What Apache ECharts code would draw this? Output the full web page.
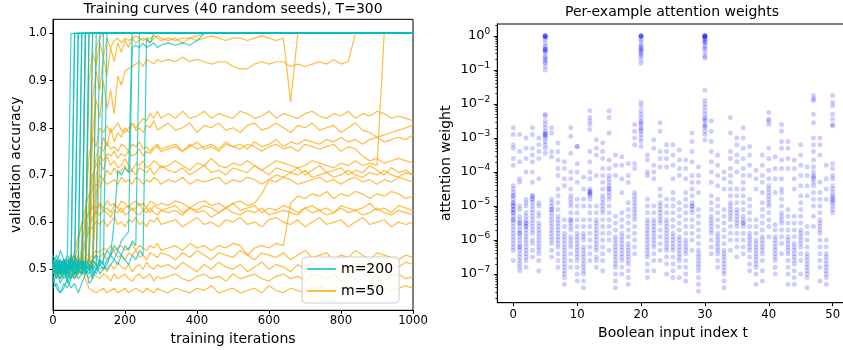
<!DOCTYPE html>
<html>
<head>
<meta charset="utf-8">
<script src="https://cdn.jsdelivr.net/npm/echarts@6/dist/echarts.min.js"></script>
<style>html,body{margin:0;padding:0;background:#fff}#chart{width:843px;height:350px}</style>
</head>
<body>
<div id="chart"></div>
<script>
// training iterations at which validation accuracy was logged
var iters = [0,10,20,30,40,50,60,70,80,90,100,110,120,130,140,150,160,170,180,190,200,
  210,220,230,240,250,260,270,280,290,300,
  320,340,360,380,400,420,440,460,480,500,520,540,560,580,600,620,640,660,680,700,
  720,740,760,780,800,820,840,860,880,900,920,940,960,980,1000];

// m=200 runs (a run that stops early stays at its last value)
var m200Runs = [
  [0.50,0.52,0.49,0.51,0.53,1.0],
  [0.49,0.51,0.50,0.52,0.48,0.50,1.0],
  [0.52,0.50,0.47,0.49,0.51,0.50,1.0],
  [0.48,0.46,0.45,0.47,0.46,0.48,0.50,1.0],
  [0.51,0.53,0.50,0.52,0.49,0.51,0.50,1.0],
  [0.50,0.49,0.52,0.50,0.53,0.51,0.49,0.50,1.0],
  [0.47,0.49,0.48,0.50,0.47,0.49,0.48,0.50,1.0],
  [0.53,0.51,0.54,0.52,0.50,0.52,0.53,0.51,0.50,1.0],
  [0.50,0.48,0.50,0.52,0.49,0.51,0.50,0.48,0.49,1.0],
  [0.46,0.47,0.45,0.46,0.48,0.46,0.47,0.45,0.47,0.49,1.0],
  [0.51,0.50,0.52,0.49,0.51,0.53,0.50,0.52,0.51,0.50,1.0],
  [0.49,0.52,0.50,0.51,0.48,0.50,0.52,0.49,0.51,0.50,0.52,1.0],
  [0.50,0.51,0.49,0.52,0.50,0.48,0.51,0.50,0.49,0.51,0.47,0.48,1.0],
  [0.52,0.50,0.51,0.49,0.50,0.52,0.51,0.50,0.52,0.49,0.51,0.50,0.51,1.0],
  [0.48,0.50,0.49,0.51,0.50,0.48,0.49,0.51,0.50,0.49,0.50,0.48,0.50,0.51,1.0],
  [0.51,0.49,0.50,0.52,0.51,0.50,0.49,0.51,0.52,0.50,0.51,0.49,0.50,0.52,0.51,1.0],
  [0.50,0.52,0.51,0.49,0.50,0.52,0.51,0.50,0.52,0.51,0.50,0.52,0.53,0.51,0.52,0.54,0.53,
   0.60,0.71,0.70,0.715,0.705,1.0],
  [0.50,0.49,0.51,0.50,0.52,0.50,0.49,0.51,0.50,0.52,0.51,0.50,0.49,0.51,0.50,
   0.52,0.53,0.55,0.54,0.56,0.57,0.58,0.97,0.975,0.97,0.98,0.97,0.975,0.98,0.97,0.975,
   0.98,0.975,0.98,0.975,0.985,1.0],
  [0.51,0.50,0.52,0.49,0.51,0.50,0.52,0.50,0.49,0.51,0.50,0.52,0.51,0.49,0.50,
   0.51,0.53,0.52,0.54,0.53,0.55,0.54,0.56,0.55,1.0],
  [0.49,0.51,0.50,0.48,0.50,0.51,0.49,0.50,0.52,0.50,0.49,0.51,0.50,0.52,0.51,
   0.50,0.51,0.52,0.51,0.53,0.52,0.51,0.53,0.52,0.54,0.53,0.99,0.98,1.0]
];

// m=50 runs
var m50Runs = [
  [0.50,0.52,0.49,0.51,0.50,0.53,0.50,0.49,0.51,1.0],
  [0.49,0.50,0.52,0.50,0.48,0.51,0.53,0.50,0.52,0.51,0.50,1.0],
  [0.51,0.50,0.49,0.52,0.50,0.51,0.48,0.50,0.52,0.51,0.53,0.50,0.97,0.99,1.0],
  [0.50,0.51,0.49,0.52,0.50,0.52,0.51,0.49,0.53,0.51,
   0.90,0.96,0.93,0.98,0.95,0.99,0.97,0.985,0.99,0.98,
   0.99,0.985,0.99,0.995,0.99,0.985,0.99,0.99,0.995,0.99,0.985,
   0.99,0.985,0.99,0.99,0.985,0.99,0.995,0.99,0.985,0.99,0.99,0.985,0.99,0.995,0.99,0.985,0.99,0.855,1.0],
  [0.49,0.50,0.52,0.51,0.49,0.50,0.52,0.50,0.51,0.53,
   0.53,0.86,0.92,0.88,0.95,0.91,0.97,0.94,0.98,0.96,
   0.985,0.97,0.99,0.98,0.985,0.99,0.985,0.98,0.99,0.995,0.99,
   0.985,0.99,0.98,0.99,0.995,1.0],
  [0.51,0.50,0.48,0.50,0.52,0.51,0.49,0.50,0.52,0.50,0.51,
   0.79,0.86,0.82,0.90,0.84,0.88,0.83,0.91,0.89,
   0.92,0.925,0.93,0.935,0.94,0.93,0.945,0.94,0.935,0.945,0.94,
   0.945,0.94,0.95,0.94,0.945,0.94,0.935,0.94,0.94,0.93,0.925,0.925,0.935,0.94,0.935,0.94,0.94,
   0.93,0.935,0.93,0.935,0.94,0.935,0.945,0.935,0.94,1.0],
  [0.50,0.52,0.50,0.51,0.49,0.52,0.50,0.51,0.53,0.50,0.52,0.51,
   0.70,0.73,0.71,0.74,0.72,0.73,0.715,0.72,0.735,0.72,0.71,0.725,0.72,0.73,0.715,0.72,0.73,0.725,0.715,
   0.72,0.73,0.72,0.71,0.725,0.72,0.735,0.72,0.715,0.725,0.72,0.73,0.72,0.71,0.72,
   0.73,0.725,0.72,0.715,0.72,0.73,0.725,0.72,0.715,0.725,0.72,0.73,0.72,0.725,0.72,1.0],
  [0.49,0.51,0.50,0.52,0.50,0.49,0.51,0.50,0.52,0.51,0.50,0.52,0.51,
   0.74,0.78,0.76,0.80,0.77,0.79,0.78,0.80,0.79,0.81,0.80,0.81,0.82,0.815,0.83,0.82,0.835,0.82,
   0.83,0.82,0.835,0.82,0.825,0.835,0.82,0.83,0.825,0.82,0.835,0.83,0.82,0.825,0.835,0.82,0.83,0.825,
   0.82,0.83,0.835,0.825,0.82,0.83,0.825,0.835,0.82,0.83,0.825,0.835,0.83,0.82,0.825,0.82,0.815],
  [0.50,0.49,0.51,0.52,0.50,0.51,0.49,0.52,0.50,
   0.62,0.74,0.78,0.76,0.80,0.79,0.805,0.79,0.80,0.81,0.795,0.79,0.80,0.81,0.795,0.80,0.79,0.805,0.80,0.815,0.795,0.80,
   0.81,0.795,0.80,0.81,0.79,0.805,0.80,0.81,0.795,0.80,0.79,0.805,0.81,0.795,0.80,0.81,0.80,0.79,
   0.805,0.80,0.81,0.795,0.80,0.805,0.79,0.80,0.81,0.795,0.79,0.78,0.785,0.79,0.795,0.80,0.805],
  [0.51,0.50,0.52,0.49,0.50,0.52,0.51,0.50,0.49,0.51,0.52,
   0.68,0.74,0.76,0.75,0.77,0.755,0.76,0.75,0.765,0.76,0.75,0.765,0.76,0.77,0.755,0.76,0.75,0.76,0.765,0.755,
   0.76,0.765,0.75,0.76,0.77,0.755,0.76,0.75,0.765,0.76,0.755,0.765,0.76,0.75,0.76,0.765,0.755,0.76,
   0.75,0.765,0.76,0.755,0.76,0.765,0.75,0.76,0.755,0.74,0.73,0.735,0.725,0.73,0.735,0.73,0.725],
  [0.50,0.52,0.49,0.51,0.50,0.53,0.50,0.52,0.51,0.50,
   0.65,0.70,0.72,0.74,0.73,0.745,0.74,0.75,0.735,0.745,0.74,0.75,0.74,0.745,0.755,0.74,0.75,0.745,0.755,0.76,0.75,
   0.755,0.76,0.75,0.765,0.755,0.76,0.765,0.755,0.77,0.76,0.765,0.755,0.77,0.76,0.765,0.775,0.76,0.77,
   0.765,0.775,0.77,0.765,0.775,0.77,0.78,0.77,0.775,0.765,0.775,0.78,0.77,0.775,0.78,0.775,0.785],
  [0.50,0.51,0.49,0.52,0.50,0.51,0.53,0.50,0.49,0.51,0.52,0.50,
   0.66,0.70,0.69,0.71,0.70,0.715,0.70,0.71,0.72,0.705,0.71,0.70,0.715,0.71,0.705,0.715,0.70,0.71,0.72,
   0.71,0.705,0.715,0.70,0.71,0.72,0.705,0.71,0.70,0.715,0.71,0.705,0.72,0.71,0.70,0.715,0.71,0.705,
   0.715,0.70,0.71,0.72,0.705,0.71,0.715,0.70,0.71,0.705,0.72,0.71,0.70,0.715,0.705,0.71,0.70],
  [0.50,0.49,0.52,0.50,0.51,0.53,0.51,
   0.56,0.60,0.63,0.66,0.67,0.68,0.675,0.69,0.68,0.685,0.69,0.68,0.695,0.685,0.69,0.68,0.695,0.69,0.68,0.69,0.685,0.695,0.69,0.68,
   0.69,0.685,0.695,0.68,0.69,0.685,0.69,0.695,0.68,0.69,0.685,0.695,0.69,0.68,0.69,0.685,0.695,0.69,
   0.68,0.685,0.69,0.695,0.685,0.69,0.68,0.69,0.695,0.685,0.69,0.68,0.69,0.685,0.695,0.69,0.685],
  [0.51,0.50,0.49,0.52,0.50,0.51,
   0.54,0.57,0.59,0.61,0.62,0.635,0.63,0.64,0.63,0.645,0.635,0.64,0.63,0.645,0.64,0.63,0.64,0.645,0.635,0.64,0.63,0.645,0.64,0.635,0.64,
   0.635,0.645,0.64,0.63,0.64,0.645,0.635,0.64,0.63,0.64,0.645,0.635,0.64,0.66,0.69,0.70,0.695,0.705,
   0.70,0.71,0.695,0.70,0.705,0.695,0.70,0.71,0.70,0.695,0.705,0.70,0.71,0.70,0.695,0.705,0.70],
  [0.50,0.52,0.50,0.49,0.51,0.50,0.52,0.50,
   0.55,0.60,0.62,0.63,0.62,0.635,0.625,0.63,0.62,0.635,0.63,0.62,0.63,0.635,0.625,0.63,0.64,0.625,0.63,0.62,0.635,0.63,0.625,
   0.63,0.635,0.62,0.63,0.625,0.635,0.63,0.62,0.63,0.64,0.625,0.63,0.635,0.62,0.63,0.625,0.635,0.63,
   0.62,0.63,0.635,0.625,0.63,0.62,0.635,0.63,0.625,0.63,0.64,0.625,0.63,0.62,0.635,0.63,0.625],
  [0.49,0.51,0.50,0.52,0.50,0.49,0.51,0.53,0.50,
   0.56,0.59,0.61,0.62,0.615,0.625,0.62,0.61,0.625,0.62,0.63,0.615,0.62,0.63,0.62,0.615,0.625,0.62,0.63,0.62,0.615,0.625,
   0.62,0.625,0.615,0.63,0.62,0.625,0.61,0.62,0.63,0.62,0.615,0.625,0.62,0.63,0.615,0.62,0.625,0.62,
   0.615,0.63,0.62,0.625,0.615,0.62,0.63,0.62,0.625,0.615,0.62,0.63,0.62,0.615,0.625,0.62,0.615],
  [0.50,0.48,0.51,0.50,0.52,0.50,0.49,0.51,
   0.53,0.56,0.58,0.59,0.60,0.595,0.605,0.59,0.60,0.61,0.595,0.60,0.59,0.605,0.60,0.61,0.595,0.60,0.59,0.605,0.60,0.61,0.595,
   0.60,0.605,0.59,0.60,0.61,0.595,0.60,0.59,0.605,0.60,0.61,0.595,0.60,0.59,0.605,0.61,0.60,0.595,
   0.605,0.59,0.60,0.61,0.595,0.60,0.605,0.59,0.60,0.61,0.595,0.60,0.605,0.59,0.60,0.595,0.60],
  [0.50,0.51,0.49,0.50,0.52,0.51,0.50,0.49,0.51,0.50,
   0.52,0.53,0.54,0.535,0.545,0.54,0.55,0.54,0.545,0.55,0.54,0.545,0.555,0.54,0.55,0.545,0.54,0.55,0.545,0.555,0.54,
   0.545,0.55,0.54,0.555,0.545,0.55,0.54,0.55,0.545,0.555,0.55,0.53,0.545,0.55,0.545,0.555,0.55,0.64,
   0.655,0.65,0.66,0.655,0.665,0.65,0.66,0.655,0.665,0.66,0.65,0.66,0.655,0.665,0.66,0.65,0.655],
  [0.50,0.52,0.51,0.49,0.50,0.52,0.51,0.50,0.49,0.51,0.50,
   0.52,0.53,0.525,0.535,0.52,0.53,0.54,0.525,0.53,0.52,0.535,0.53,0.54,0.525,0.53,0.52,0.535,0.53,0.525,0.535,
   0.53,0.52,0.535,0.525,0.54,0.53,0.52,0.535,0.53,0.525,0.54,0.53,0.52,0.535,0.53,0.525,0.535,0.52,
   0.53,0.54,0.525,0.53,0.535,0.52,0.53,0.525,0.54,0.53,0.52,0.535,0.53,0.525,0.52,0.53,0.525],
  [0.51,0.50,0.49,0.52,0.50,0.51,0.50,0.52,0.49,0.51,0.50,0.52,0.51,0.50,0.505,0.495,
   0.51,0.50,0.515,0.505,0.50,0.51,0.495,0.505,0.51,0.50,0.515,0.505,0.50,0.51,0.505,
   0.51,0.50,0.515,0.505,0.495,0.51,0.50,0.515,0.505,0.50,0.51,0.495,0.505,0.515,0.50,0.51,0.505,0.495,
   0.51,0.50,0.515,0.505,0.50,0.51,0.495,0.505,0.515,0.50,0.51,0.505,0.52,0.51,0.505,0.515,0.51],
  [0.50,0.49,0.51,0.50,0.48,0.50,0.49,0.51,0.50,0.49,0.48,0.49,0.485,0.48,0.49,0.485,
   0.475,0.49,0.48,0.485,0.49,0.48,0.475,0.485,0.49,0.48,0.485,0.49,0.475,0.485,0.48,
   0.485,0.49,0.48,0.475,0.485,0.49,0.48,0.485,0.475,0.49,0.48,0.485,0.49,0.48,0.475,0.485,0.49,0.48,
   0.485,0.475,0.49,0.485,0.48,0.49,0.475,0.485,0.48,0.49,0.485,0.48,0.475,0.485,0.49,0.48,0.485],
  [0.49,0.50,0.48,0.51,0.49,0.50,0.48,0.49,0.50,0.48,
   0.46,0.455,0.45,0.455,0.46,0.45,0.455,0.46,0.45,0.455,0.46,0.45,0.455,0.46,0.455,0.45,0.46,0.455,0.45,0.46,0.455,
   0.45,0.46,0.455,0.45,0.46,0.455,0.465,0.45,0.455,0.46,0.45,0.455,0.46,0.45,0.465,0.455,0.45,0.46,
   0.455,0.45,0.46,0.465,0.455,0.45,0.46,0.455,0.45,0.46,0.455,0.465,0.46,0.455,0.46,0.465,0.46]
];

var accTicks = [0.5, 0.6, 0.7, 0.8, 0.9, 1.0];
var iterTicks = [0, 200, 400, 600, 800, 1000];

// attention weights, log10, one list per Boolean input index t
var inputIndices = [0,1,2,3,4,5,6,7,8,9,10,11,12,13,14,15,16,17,18,19,20,21,22,23,24,25,
  26,27,28,29,30,31,32,33,34,35,36,37,38,39,40,41,42,43,44,45,46,47,48,49,50];
var logWeights = [
  [-2.7,-2.9,-3.2,-3.3,-3.6,-3.8,-4.4,-4.5,-4.6,-4.7,-4.7,-4.8,-4.9,-4.9,-5.0,-5.0,-5.1,-5.1,-5.2,-5.2,-5.3,-5.4,-5.4,-5.5,-5.6,-5.7,-5.8,-5.9,-6.0,-6.1,-6.2,-6.3,-6.6],
  [-2.9,-3.4,-3.7,-4.2,-4.3,-5.0,-5.1,-5.3,-5.4,-5.5,-5.5,-5.6,-5.7,-5.8,-5.8,-5.9,-6.0,-6.1,-6.2,-6.2,-6.3,-6.4,-6.5,-6.6,-6.7,-6.8,-6.9],
  [-3.0,-3.3,-3.6,-4.0,-4.8,-4.9,-5.0,-5.2,-5.3,-5.4,-5.5,-5.5,-5.6,-5.6,-5.7,-5.8,-5.9,-6.0,-6.1,-6.2,-6.3,-6.4,-6.5,-6.6,-6.8],
  [-2.7,-2.9,-3.3,-3.5,-3.7,-4.0,-4.3,-4.7,-4.7,-4.8,-4.8,-4.9,-5.0,-5.1,-5.2,-5.3,-5.4,-5.5,-5.6,-5.7,-5.8,-6.0,-6.1,-6.3,-6.5],
  [-3.0,-3.2,-3.4,-3.6,-4.2,-4.9,-5.0,-5.2,-5.3,-5.5,-5.6,-5.7,-5.8,-5.9,-6.0,-6.1,-6.2,-6.3,-6.4,-6.6,-6.9],
  [0,0,0,0,0,-0.05,-0.1,-0.2,-0.3,-0.35,-0.4,-0.4,-0.42,-0.45,-0.5,-0.6,-0.65,-0.7,-0.75,-0.8,-0.9,-1.0,-2.3,-2.35,-2.5,-2.6,-2.7,-2.8,-2.85,-2.9,-2.9,-2.95,-3.0,-3.1,-3.2,-3.3,-3.45],
  [-2.7,-2.85,-3.4,-3.55,-4.8,-4.9,-5.0,-5.1,-5.1,-5.2,-5.3,-5.4,-5.5,-5.6,-5.7,-5.8,-5.9,-6.0,-6.1,-6.3,-6.5],
  [-3.15,-3.4,-3.65,-3.9,-4.1,-4.5,-4.7,-4.9,-5.1,-5.3,-5.4,-5.5,-5.6,-5.7,-5.8,-5.9,-6.0,-6.1,-6.2,-6.4,-6.6,-6.8],
  [-3.7,-3.9,-4.2,-4.4,-5.4,-5.6,-5.8,-5.9,-6.0,-6.1,-6.2,-6.3,-6.4,-6.5,-6.6,-6.7,-6.8,-6.9,-7.0,-7.1,-7.3],
  [-2.7,-2.95,-3.45,-4.0,-4.2,-4.5,-4.7,-4.8,-4.9,-5.0,-5.2,-5.4,-5.4,-5.5,-5.6,-5.7,-5.9,-6.0,-6.1,-6.2,-6.4,-6.6,-6.8],
  [-3.25,-3.25,-3.75,-4.0,-4.3,-4.8,-5.0,-5.2,-5.4,-5.6,-5.8,-5.9,-6.0,-6.1,-6.2,-6.3,-6.4,-6.5,-6.6,-6.8,-7.0,-7.2],
  [-4.15,-4.5,-4.8,-5.0,-5.4,-5.6,-5.8,-5.9,-6.0,-6.2,-6.3,-6.4,-6.5,-6.6,-6.7,-6.8,-6.9,-7.0,-7.2,-7.4],
  [-2.2,-2.4,-2.5,-2.6,-2.75,-3.4,-3.7,-4.0,-4.2,-4.5,-4.55,-4.6,-4.6,-4.65,-4.7,-4.8,-5.0,-5.2,-5.4,-5.6,-5.8,-6.0,-6.2,-6.4,-6.6],
  [-3.05,-3.3,-3.5,-4.1,-5.0,-5.2,-5.4,-5.5,-5.6,-5.7,-5.8,-5.9,-6.0,-6.1,-6.2,-6.3,-6.5,-6.6,-6.8],
  [-3.15,-3.4,-3.6,-3.9,-4.1,-4.3,-4.5,-4.7,-4.8,-4.9,-5.0,-5.1,-5.2,-5.4,-5.6,-5.8,-6.0,-6.2,-6.4,-6.6,-6.9],
  [-2.2,-2.4,-2.85,-3.65,-3.9,-4.1,-4.2,-4.3,-4.4,-4.5,-4.5,-4.6,-4.7,-4.8,-5.0,-5.2,-5.4,-5.6,-5.8,-6.0,-6.3],
  [-3.5,-3.8,-4.1,-5.3,-5.5,-5.7,-5.9,-6.0,-6.1,-6.2,-6.3,-6.4,-6.5,-6.6,-6.7,-6.8,-7.0,-7.2,-7.4],
  [-3.55,-3.8,-4.2,-4.6,-5.2,-5.4,-5.6,-5.8,-5.9,-6.0,-6.1,-6.2,-6.3,-6.4,-6.5,-6.6,-6.8,-7.0],
  [-3.75,-4.1,-4.3,-4.9,-5.1,-5.3,-5.5,-5.7,-5.9,-6.1,-6.2,-6.3,-6.4,-6.5,-6.6,-6.7,-6.9,-7.1,-7.3],
  [-2.6,-2.8,-3.0,-3.2,-3.75,-3.9,-4.6,-4.7,-4.8,-4.9,-5.0,-5.1,-5.2,-5.3,-5.4,-5.6,-5.8,-6.0,-6.2,-6.4],
  [0,0,0,0,0,-0.1,-0.15,-0.25,-0.3,-0.35,-0.4,-0.4,-0.45,-0.5,-0.55,-0.6,-0.7,-0.8,-1.95,-2.05,-2.2,-2.3,-2.4,-2.5,-2.55,-2.6,-2.7,-2.75,-2.8,-2.9,-3.0,-3.1,-3.25],
  [-3.5,-3.65,-4.0,-4.1,-4.8,-5.0,-5.2,-5.4,-5.5,-5.6,-5.7,-5.8,-5.9,-6.0,-6.1,-6.2,-6.3,-6.4,-6.5,-6.7,-6.9,-7.1],
  [-3.05,-3.3,-3.8,-4.0,-4.2,-5.0,-5.2,-5.4,-5.5,-5.6,-5.7,-5.8,-5.9,-6.0,-6.1,-6.2,-6.4,-6.6,-6.9],
  [-2.55,-2.8,-3.4,-3.6,-3.85,-4.5,-4.7,-4.9,-5.0,-5.1,-5.2,-5.3,-5.4,-5.5,-5.7,-5.9,-6.1,-6.3,-6.6],
  [-3.2,-3.4,-3.6,-3.85,-4.8,-5.0,-5.2,-5.4,-5.5,-5.6,-5.7,-5.8,-5.9,-6.0,-6.1,-6.2,-6.3,-6.5,-6.7,-7.0],
  [-3.2,-3.5,-3.8,-4.2,-4.6,-4.8,-5.0,-5.2,-5.4,-5.6,-5.8,-5.9,-6.0,-6.1,-6.2,-6.3,-6.5,-6.7,-6.9,-7.1],
  [-3.35,-3.65,-3.9,-4.1,-4.9,-5.1,-5.3,-5.5,-5.7,-5.9,-6.0,-6.1,-6.2,-6.3,-6.4,-6.5,-6.6,-6.8,-7.1],
  [-3.65,-3.9,-4.2,-4.6,-4.8,-5.0,-5.2,-5.4,-5.6,-5.8,-6.0,-6.1,-6.2,-6.3,-6.4,-6.6,-6.8,-7.0,-7.2],
  [-2.85,-3.1,-3.4,-3.7,-4.1,-4.3,-4.5,-4.7,-4.9,-5.0,-5.0,-5.1,-5.2,-5.4,-5.6,-5.8,-6.0,-6.3],
  [-3.85,-4.1,-4.3,-4.6,-5.1,-5.3,-5.5,-5.7,-5.9,-6.1,-6.3,-6.4,-6.5,-6.6,-6.7,-6.8,-6.9,-7.1,-7.3,-7.5],
  [0,0,0,0,0,0,-0.05,-0.1,-0.1,-0.15,-0.2,-0.2,-0.3,-0.35,-0.4,-0.5,-0.6,-0.65,-1.6,-1.9,-2.0,-2.1,-2.2,-2.3,-2.4,-2.45,-2.5,-2.6,-2.65,-2.7,-2.8,-2.9,-3.06],
  [-2.5,-2.8,-3.1,-3.4,-3.7,-4.0,-4.3,-4.7,-4.9,-5.1,-5.3,-5.4,-5.5,-5.6,-5.7,-5.8,-6.0,-6.2,-6.4],
  [-3.5,-3.8,-4.1,-4.4,-4.8,-5.0,-5.2,-5.4,-5.6,-5.8,-5.9,-6.0,-6.1,-6.2,-6.3,-6.4,-6.6,-6.8],
  [-4.0,-4.2,-4.5,-5.1,-5.3,-5.5,-5.7,-5.9,-6.1,-6.3,-6.4,-6.5,-6.6,-6.7,-6.8,-6.9,-7.0,-7.2,-7.4],
  [-2.4,-2.85,-3.4,-3.6,-3.9,-4.1,-4.3,-4.5,-4.7,-4.9,-5.0,-5.1,-5.2,-5.3,-5.4,-5.6,-5.8,-6.0,-6.3],
  [-3.0,-3.2,-3.5,-3.7,-4.0,-4.5,-4.7,-4.9,-5.1,-5.2,-5.3,-5.4,-5.5,-5.6,-5.8,-6.0,-6.2,-6.5],
  [-2.7,-3.0,-3.3,-3.6,-3.9,-4.1,-4.3,-4.5,-4.7,-4.9,-5.1,-5.3,-5.4,-5.5,-5.5,-5.6,-5.8,-6.0,-6.2,-6.4],
  [-3.25,-3.5,-3.8,-4.1,-4.8,-5.0,-5.2,-5.4,-5.6,-5.8,-5.9,-6.0,-6.1,-6.2,-6.3,-6.5,-6.7,-6.9],
  [-3.95,-4.2,-4.5,-5.4,-5.6,-5.8,-6.0,-6.1,-6.2,-6.3,-6.4,-6.5,-6.6,-6.7,-6.8,-7.0,-7.3],
  [-3.5,-3.8,-4.1,-4.3,-4.6,-4.9,-5.1,-5.3,-5.5,-5.7,-5.9,-6.0,-6.1,-6.2,-6.3,-6.4,-6.6,-6.9,-7.2],
  [-2.25,-2.45,-2.5,-2.6,-3.3,-3.6,-3.95,-4.2,-4.4,-4.5,-4.6,-4.7,-4.8,-4.9,-5.0,-5.2,-5.4,-5.6,-5.9],
  [-3.55,-3.9,-4.2,-4.6,-5.55,-5.7,-5.9,-6.0,-6.1,-6.2,-6.3,-6.4,-6.5,-6.6,-6.8,-7.0],
  [-2.6,-2.8,-3.1,-3.3,-3.65,-3.9,-4.2,-4.5,-4.6,-4.8,-5.0,-5.2,-5.3,-5.4,-5.5,-5.7,-5.9,-6.1,-6.4],
  [-3.1,-3.3,-3.6,-3.9,-5.1,-5.3,-5.5,-5.7,-5.9,-6.0,-6.1,-6.2,-6.3,-6.4,-6.6,-6.8,-7.0,-7.3],
  [-3.65,-3.9,-4.2,-4.5,-5.3,-5.5,-5.7,-5.9,-6.1,-6.2,-6.3,-6.4,-6.5,-6.6,-6.7,-6.9,-7.1,-7.3],
  [-3.2,-3.5,-3.8,-4.1,-4.4,-4.7,-4.9,-5.1,-5.3,-5.5,-5.7,-5.8,-5.9,-6.0,-6.1,-6.2,-6.4,-6.6,-7.0],
  [-3.85,-4.1,-4.4,-4.7,-5.6,-5.8,-6.0,-6.2,-6.4,-6.5,-6.6,-6.7,-6.8,-6.9,-7.0,-7.1,-7.4],
  [-1.75,-1.85,-1.9,-2.3,-2.55,-3.0,-3.2,-3.4,-3.65,-3.85,-4.0,-4.1,-4.15,-4.2,-4.3,-4.4,-4.6,-4.8,-5.0,-5.3,-5.6],
  [-3.0,-3.2,-3.5,-4.3,-4.6,-4.8,-5.0,-5.2,-5.4,-5.5,-5.6,-5.7,-5.8,-6.0,-6.2,-6.4,-6.6,-6.8,-7.2],
  [-3.8,-4.2,-4.5,-4.8,-6.0,-6.2,-6.4,-6.5,-6.6,-6.7,-6.8,-6.9,-7.0,-7.1,-7.3],
  [-1.75,-1.95,-2.05,-2.3,-2.45,-2.6,-2.65,-3.75,-3.9,-4.1,-4.2,-4.4,-4.5,-4.6,-4.7,-4.75,-4.8,-4.85,-4.9,-5.0,-5.1,-5.2]
];
var decadeTicks = [-7, -6, -5, -4, -3, -2, -1, 0];
var indexTicks = [0, 10, 20, 30, 40, 50];

var FONT = 'DejaVu Sans';
var CYAN = 'rgba(0,191,191,0.75)';
var ORANGE = 'rgba(255,165,0,0.75)';

function runPoints(run) {
  var pts = [];
  for (var i = 0; i < run.length && i < iters.length; i++) pts.push([iters[i], run[i]]);
  // a run that stopped being logged keeps its last accuracy up to the end
  if (run.length < iters.length) pts.push([iters[iters.length - 1], run[run.length - 1]]);
  return pts;
}

var series = [];
m50Runs.forEach(function (r) {
  series.push({ name: 'm=50', type: 'line', xAxisIndex: 0, yAxisIndex: 0, data: runPoints(r),
    showSymbol: false, symbol: 'none', lineStyle: { width: 1.2, color: ORANGE }, itemStyle: { color: ORANGE }, z: 2 });
});
m200Runs.forEach(function (r) {
  series.push({ name: 'm=200', type: 'line', xAxisIndex: 0, yAxisIndex: 0, data: runPoints(r),
    showSymbol: false, symbol: 'none', lineStyle: { width: 1.2, color: CYAN }, itemStyle: { color: CYAN }, z: 3 });
});

var scatterData = [];
logWeights.forEach(function (list, k) {
  list.forEach(function (v) { scatterData.push([inputIndices[k], v]); });
});
series.push({ type: 'scatter', xAxisIndex: 1, yAxisIndex: 1, data: scatterData, symbolSize: 5,
  itemStyle: { color: '#0000ff', opacity: 0.19 }, silent: true });

// log-axis minor tick positions (2..9 x 10^n), in log10 units
var minorTicks = [];
for (var d = -8; d <= 0; d++) {
  for (var k = 2; k <= 9; k++) {
    var v = d + Math.log10(k);
    if (v > -7.84 && v < 0.35) minorTicks.push(v);
  }
}

function supText(e) {
  return '{b|10}{s|' + (e < 0 ? '\u2212' + (-e) : String(e)) + '}';
}

var axisLineStyle = { show: true, onZero: false, lineStyle: { color: '#000', width: 1 } };
var tickStyle = { show: true, length: 3.5, lineStyle: { color: '#000', width: 1 } };

var chart = echarts.init(document.getElementById('chart'), null, { renderer: 'canvas' });
chart.setOption({
  animation: false,
  backgroundColor: '#fff',
  textStyle: { fontFamily: FONT },
  title: [
    { text: 'Training curves (40 random seeds), T=300', left: 233, top: 2, textAlign: 'center', padding: 0,
      textStyle: { fontFamily: FONT, fontSize: 14, fontWeight: 'normal', color: '#000' } },
    { text: 'Per-example attention weights', left: 672, top: 5, textAlign: 'center', padding: 0,
      textStyle: { fontFamily: FONT, fontSize: 14, fontWeight: 'normal', color: '#000' } }
  ],
  legend: {
    orient: 'vertical', left: 302, top: 257, padding: [3, 6, 3, 5],
    itemWidth: 29, itemHeight: 2, itemGap: 4, itemTextGap: 11,
    backgroundColor: 'rgba(255,255,255,0.8)', borderColor: '#cccccc', borderWidth: 1, borderRadius: 4,
    textStyle: { fontFamily: FONT, fontSize: 14, color: '#000', lineHeight: 18 },
    data: [
      { name: 'm=200', icon: 'rect', itemStyle: { color: CYAN } },
      { name: 'm=50', icon: 'rect', itemStyle: { color: ORANGE } }
    ],
    selectedMode: false
  },
  grid: [
    { left: 53, top: 19.3, width: 360, height: 291, show: true, borderColor: '#000', borderWidth: 1,
      backgroundColor: 'transparent', outerBoundsMode: 'none', containLabel: false },
    { left: 497.3, top: 24, width: 351.3, height: 278.7, show: true, borderColor: '#000', borderWidth: 1,
      backgroundColor: 'transparent', outerBoundsMode: 'none', containLabel: false }
  ],
  xAxis: [
    { type: 'value', gridIndex: 0, min: 0, max: 1000,
      name: 'training iterations', nameLocation: 'middle', nameGap: 22,
      nameTextStyle: { fontFamily: FONT, fontSize: 14, color: '#000' },
      axisLine: axisLineStyle, axisTick: Object.assign({ customValues: iterTicks }, tickStyle),
      axisLabel: { customValues: iterTicks, margin: 5, fontFamily: FONT, fontSize: 11.7, color: '#000',
        formatter: function (v) { return String(v); } },
      splitLine: { show: false } },
    { type: 'value', gridIndex: 1, min: -2.5, max: 52.5,
      name: 'Boolean input index t', nameLocation: 'middle', nameGap: 24,
      nameTextStyle: { fontFamily: FONT, fontSize: 14, color: '#000' },
      axisLine: axisLineStyle, axisTick: Object.assign({ customValues: indexTicks }, tickStyle),
      axisLabel: { customValues: indexTicks, margin: 6, fontFamily: FONT, fontSize: 11.7, color: '#000',
        formatter: function (v) { return String(v); } },
      splitLine: { show: false } }
  ],
  yAxis: [
    { type: 'value', gridIndex: 0, min: 0.413, max: 1.03, position: 'left',
      name: 'validation accuracy', nameLocation: 'middle', nameGap: 30,
      nameTextStyle: { fontFamily: FONT, fontSize: 14, color: '#000' },
      axisLine: axisLineStyle, axisTick: Object.assign({ customValues: accTicks }, tickStyle),
      axisLabel: { customValues: accTicks, margin: 6, fontFamily: FONT, fontSize: 11.7, color: '#000',
        formatter: function (v) { return v.toFixed(1); } },
      splitLine: { show: false } },
    { type: 'value', gridIndex: 1, min: -7.84, max: 0.35, position: 'left',
      name: 'attention weight', nameLocation: 'middle', nameGap: 44,
      nameTextStyle: { fontFamily: FONT, fontSize: 14, color: '#000' },
      axisLine: axisLineStyle, axisTick: Object.assign({ customValues: decadeTicks }, tickStyle),
      axisLabel: { customValues: decadeTicks, margin: 7, color: '#000',
        formatter: function (v) { return supText(Math.round(v)); },
        rich: {
          b: { fontFamily: FONT, fontSize: 13, color: '#000', lineHeight: 18 },
          s: { fontFamily: FONT, fontSize: 9, color: '#000', lineHeight: 10, verticalAlign: 'top' }
        } },
      splitLine: { show: false } },
    { type: 'value', gridIndex: 1, min: -7.84, max: 0.35, position: 'left', offset: 0,
      axisLine: { show: true, onZero: false, lineStyle: { color: '#000', width: 1 } },
      axisTick: { show: true, customValues: minorTicks, length: 2, lineStyle: { color: '#000', width: 0.8 } },
      axisLabel: { show: false, customValues: minorTicks }, splitLine: { show: false } }
  ],
  series: series
});
</script>
</body>
</html>
